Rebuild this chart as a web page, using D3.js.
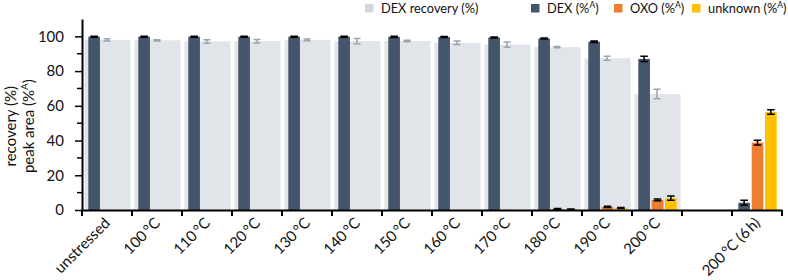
<!DOCTYPE html>
<html>
<head>
<meta charset="utf-8">
<script src="https://cdn.jsdelivr.net/npm/d3@7"></script>
<style>
  body { margin: 0; background: #fff; }
  svg text { font-family: Lato, "Open Sans", sans-serif; fill: #111; }
</style>
</head>
<body>
<div id="chart"></div>
<script>
// Data
const categories = ["unstressed", "100\u2009°C", "110\u2009°C", "120\u2009°C", "130\u2009°C", "140\u2009°C",
  "150\u2009°C", "160\u2009°C", "170\u2009°C", "180\u2009°C", "190\u2009°C", "200\u2009°C", "gap", "200\u2009°C (6\u2009h)"];
const recovery    = [98.0, 97.7, 97.1, 97.2, 98.0, 97.3, 97.3, 96.3, 95.3, 93.8, 87.4, 66.8, null, null];
const recoveryErr = [0.6, 0.3, 1.0, 1.0, 0.5, 1.5, 0.4, 1.0, 1.5, 0.3, 1.2, 2.8, null, null];
const dex    = [99.8, 99.8, 99.8, 99.8, 99.8, 99.8, 99.7, 99.6, 99.4, 98.8, 96.9, 87.0, null, 4.2];
const dexErr = [0.3, 0.3, 0.3, 0.3, 0.3, 0.3, 0.3, 0.3, 0.3, 0.3, 0.5, 1.5, null, 1.4];
const oxo    = [0, 0, 0, 0, 0, 0, 0, 0, 0.1, 0.6, 1.8, 5.8, null, 38.8];
const oxoErr = [0, 0, 0, 0, 0, 0, 0, 0, 0, 0.2, 0.3, 0.5, null, 1.3];
const unknown    = [0, 0, 0, 0, 0, 0, 0, 0, 0.1, 0.4, 1.1, 6.8, null, 56.5];
const unknownErr = [0, 0, 0, 0, 0, 0, 0, 0, 0, 0.2, 0.3, 1.2, null, 1.3];
const yTicks = [0, 20, 40, 60, 80, 100];
const yMinorTicks = [10, 30, 50, 70, 90];

// Style
const size = { width: 788, height: 280 };
const margin = { left: 82, right: 6, top: 19, bottom: 70 };
const colors = { recovery: "#e1e4e8", DEX: "#44546a", OXO: "#ed7d31", unknown: "#ffc000" };
const recErrColor = "#9aa3ae";
const axisFont = "15px";

const series = [
  { key: "DEX", values: dex, err: dexErr },
  { key: "OXO", values: oxo, err: oxoErr },
  { key: "unknown", values: unknown, err: unknownErr }
];

const svg = d3.select("#chart").append("svg")
  .attr("width", size.width)
  .attr("height", size.height);

// Scales
const xScale = d3.scaleBand(categories, [margin.left, size.width - margin.right]);
const bw = xScale.bandwidth();
const xInner = d3.scaleBand(series.map((s) => s.key), [bw * 0.126, bw * 0.894]).paddingInner(0.13);
const yScale = d3.scaleLinear([0, 110], [size.height - margin.bottom, margin.top]);
const y0 = yScale(0);

// Recovery bars (background)
const recIdx = d3.range(categories.length).filter((i) => recovery[i] != null);
svg.append("g").attr("fill", colors.recovery)
  .selectAll("rect").data(recIdx).join("rect")
  .attr("x", (i) => xScale(categories[i]) + bw * 0.05)
  .attr("width", bw * 0.92)
  .attr("y", (i) => yScale(recovery[i]))
  .attr("height", (i) => y0 - yScale(recovery[i]));

// Series bars
series.forEach((s) => {
  const idx = d3.range(categories.length).filter((i) => s.values[i] != null && s.values[i] > 0);
  const g = svg.append("g");
  g.selectAll("rect").data(idx).join("rect")
    .attr("fill", colors[s.key])
    .attr("x", (i) => xScale(categories[i]) + xInner(s.key))
    .attr("width", xInner.bandwidth())
    .attr("y", (i) => yScale(s.values[i]))
    .attr("height", (i) => y0 - yScale(s.values[i]));
  // error bars
  const eIdx = idx.filter((i) => s.err[i] > 0);
  const cx = (i) => xScale(categories[i]) + xInner(s.key) + xInner.bandwidth() / 2;
  const eg = g.append("g").attr("stroke", "#000").attr("stroke-width", 1.5).attr("fill", "none");
  eg.selectAll("path").data(eIdx).join("path")
    .attr("d", (i) => {
      const x = cx(i), t = yScale(s.values[i] + s.err[i]), b = yScale(s.values[i] - s.err[i]);
      return `M${x - 3.8},${t}H${x + 3.8}M${x},${t}V${b}M${x - 3.8},${b}H${x + 3.8}`;
    });
});

// Recovery error bars
svg.append("g").attr("stroke", recErrColor).attr("stroke-width", 1.5).attr("fill", "none")
  .selectAll("path").data(recIdx).join("path")
  .attr("d", (i) => {
    const x = xScale(categories[i]) + bw / 2;
    const t = yScale(recovery[i] + recoveryErr[i]), b = yScale(recovery[i] - recoveryErr[i]);
    return `M${x - 3.5},${t}H${x + 3.5}M${x},${t}V${b}M${x - 3.5},${b}H${x + 3.5}`;
  });

// Y axis
const yAxis = svg.append("g")
  .attr("transform", `translate(${margin.left},0)`)
  .call(d3.axisLeft(yScale).tickValues(yTicks).tickSize(7).tickPadding(11).tickSizeOuter(0));
yAxis.attr("font-size", null).attr("font-family", null);
yAxis.selectAll(".tick text").style("font-size", "15px");
yAxis.append("g").selectAll("line").data(yMinorTicks).join("line")
  .attr("x1", -5).attr("x2", 0)
  .attr("y1", (d) => yScale(d)).attr("y2", (d) => yScale(d))
  .attr("stroke", "#000").attr("stroke-width", 1.5);
yAxis.select(".domain").attr("stroke-width", 2);
yAxis.selectAll(".tick line").attr("stroke-width", 1.5);

// X axis
const xAxis = svg.append("g")
  .attr("transform", `translate(0,${y0})`)
  .call(d3.axisBottom(xScale).tickSize(0).tickSizeOuter(0).tickFormat((d) => (d === "gap" ? "" : d)));
xAxis.attr("font-size", null).attr("font-family", null);
xAxis.select(".domain").attr("stroke-width", 2.2);
xAxis.selectAll(".tick text")
  .style("font-size", axisFont)
  .attr("text-anchor", "end")
  .attr("y", 0).attr("dy", 0)
  .attr("transform", "translate(4,14) rotate(-45)");
xAxis.append("g").selectAll("line").data([...categories.map((c) => xScale(c)), xScale.range()[1]]).join("line")
  .attr("x1", (d) => d).attr("x2", (d) => d)
  .attr("y1", 0).attr("y2", 6)
  .attr("stroke", "#000").attr("stroke-width", 2);

// Y axis title, two rotated lines
const titleY = (yScale(0) + yScale(100)) / 2 + 3;
svg.append("text")
  .attr("transform", `translate(16,${titleY}) rotate(-90)`)
  .attr("text-anchor", "middle")
  .style("font-size", axisFont)
  .text("recovery (%)");
const t2 = svg.append("text")
  .attr("transform", `translate(34,${titleY}) rotate(-90)`)
  .attr("text-anchor", "middle")
  .style("font-size", axisFont)
  .text("peak area (%");
t2.append("tspan").attr("dy", -6).style("font-size", "10px").text("A");
t2.append("tspan").attr("dy", 6).text(")");

// Legend
const legendItems = [
  { key: "recovery", label: "DEX recovery (%)", sup: false, x: 365 },
  { key: "DEX", label: "DEX (%", sup: true, x: 531 },
  { key: "OXO", label: "OXO (%", sup: true, x: 614 },
  { key: "unknown", label: "unknown (%", sup: true, x: 692 }
];
const legend = svg.append("g");
legendItems.forEach((d) => {
  const c = d.key === "recovery" ? "#d3d7dd" : colors[d.key];
  legend.append("rect").attr("x", d.x).attr("y", 4).attr("width", 8.5).attr("height", 8.5).attr("fill", c);
  const t = legend.append("text").attr("x", d.x + 16).attr("y", 13).style("font-size", "12.8px").text(d.label);
  if (d.sup) {
    t.append("tspan").attr("dy", -5).style("font-size", "8.5px").text("A");
    t.append("tspan").attr("dy", 5).text(")");
  }
});
</script>
</body>
</html>
